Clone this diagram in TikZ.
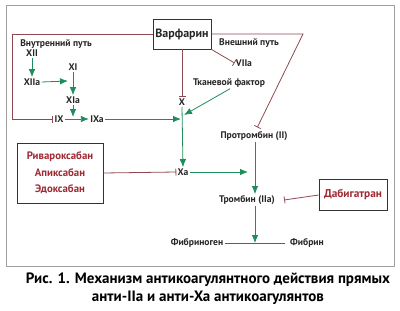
\documentclass[tikz,border=0pt]{standalone}
\usepackage{fontspec}
\setmainfont{PT Sans}
\usetikzlibrary{arrows.meta,calc}
\definecolor{inhred}{HTML}{8E4A50}
\definecolor{actgreen}{HTML}{1F8C5C}
\definecolor{drugred}{HTML}{9E2A33}
\definecolor{framegray}{HTML}{A0A0A0}
\begin{document}
\begin{tikzpicture}[x=1pt,y=-1pt,
  lbl/.style={inner sep=1.2pt,text=black!85,font=\bfseries\fontsize{9.6}{11}\selectfont},
  box/.style={draw=black!80,line width=0.7pt,inner sep=3pt,font=\bfseries\fontsize{11}{13}\selectfont},
  inh/.style={draw=inhred,line width=0.8pt,-{Bar[width=7pt,line width=0.8pt]}},
  act/.style={draw=actgreen,line width=0.8pt,-{Latex[length=8pt,width=6.5pt]}},
  plainred/.style={draw=inhred,line width=0.8pt}]
\useasboundingbox (0,0) rectangle (400,311);
\draw[framegray,line width=1pt] (6,5) rectangle (394,266);

% nodes
\node[box,minimum width=58pt,minimum height=30pt,inner sep=1pt,text=black!85,
  font=\bfseries\fontsize{12}{14}\selectfont] (warf) at (182,34) {Варфарин};
\node[lbl] (intr) at (56,44) {Внутренний путь};
\node[lbl] (extr) at (249,43) {Внешний путь};
\node[lbl] (XII) at (32,53) {XII};
\node[lbl] (XIIa) at (32,82) {XIIa};
\node[lbl] (XI) at (73,67) {XI};
\node[lbl] (XIa) at (73,100) {XIa};
\node[lbl] (IX) at (59,119) {IX};
\node[lbl] (IXa) at (97,119) {IXa};
\node[lbl] (VIIa) at (244,63) {VIIa};
\node[lbl] (X) at (182,102) {X};
\node[lbl] (tf) at (229,83) {Тканевой фактор};
\node[box,minimum width=86pt,minimum height=60pt,align=center,text=drugred,
  font=\bfseries\fontsize{10.8}{16.5}\selectfont] (riv) at (60,173) {Ривароксабан\\Апиксабан\\Эдоксабан};
\node[lbl] (Xa) at (183,172) {Xa};
\node[lbl] (pro) at (254,136) {Протромбин (II)};
\node[lbl] (thr) at (247,200) {Тромбин (IIa)};
\node[box,minimum width=68pt,minimum height=31pt,inner sep=1pt,text=drugred,
  font=\bfseries\fontsize{11.3}{13}\selectfont] (dab) at (353,195) {Дабигатран};
\node[lbl] (fbg) at (197,243) {Фибриноген};
\node[lbl] (fbn) at (307,243) {Фибрин};

\node[align=center,font=\bfseries\fontsize{15}{18}\selectfont,inner sep=0pt] (cap) at (208,289)
  {Рис. 1. Механизм антикоагулянтного действия прямых\\анти-IIa и анти-Xa антикоагулянтов};

% coordinates
\coordinate (lc1) at (12,34);
\coordinate (lc2) at (12,119);
\coordinate (rc1) at (303,34);
\coordinate (jx) at (181,119);
\coordinate (jtf) at (184,115);
\coordinate (jxi) at (68,81);
\coordinate (jixa) at (73,117);
\coordinate (jpro) at (248,172);

% warfarin inhibitions
\draw[inh] (warf.west) -- (lc1) -- (lc2) -- (IX.west);
\draw[inh,shorten >=3pt] (warf.east) -- (rc1) -- ([xshift=2pt]pro.north);
\draw[inh] (warf.south east) -- (VIIa.west);
\draw[inh] (warf.south) -- (X.north);

% intrinsic pathway
\draw[act] (XII.south) -- (XIIa.north);
\draw[act] (XIIa.east) -- (jxi);
\draw[act] (XI.south) -- (XIa.north);
\draw[act] (XIa.south) -- (jixa);
\draw[act] (IX.east) -- (IXa.west);
\draw[act] (IXa.east) -- (jx);
\draw[act] ([xshift=1pt]tf.south) -- (jtf);
\draw[act] (X.south) -- (Xa.north);

% common pathway
\draw[inh] (riv.east) -- (Xa.west);
\draw[act] (Xa.east) -- (jpro);
\draw[act] ([xshift=1pt]pro.south) -- ([xshift=1pt]pro.south |- thr.north);
\draw[inh] (dab.west) -- ([xshift=8pt]thr.east);
\draw[act] ([xshift=1pt]pro.south |- thr.south) -- ([xshift=1pt]pro.south |- fbg.center);
\draw[plainred] (fbg.east) -- ([xshift=-4pt]fbn.west);
\end{tikzpicture}
\end{document}
